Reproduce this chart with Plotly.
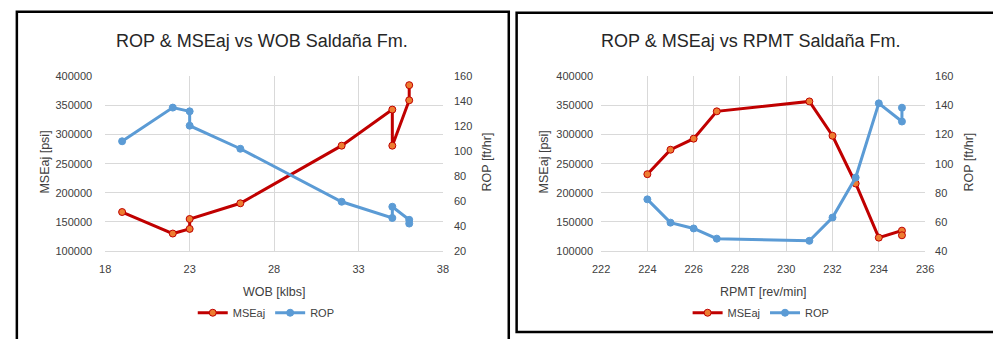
import plotly.graph_objects as go

# ---- Data: left chart (WOB) ----
wob = [19, 22, 23, 23, 26, 32, 35, 35, 36, 36]
mse_wob = [167000, 130000, 138000, 155000, 182000, 281000, 343000, 281000, 359000, 385000]
rop_wob = [108, 135, 132, 120.5, 102, 59.5, 46.5, 55.5, 45, 42]

# ---- Data: right chart (RPMT) ----
rpmt = [224, 225, 226, 227, 231, 232, 233, 234, 235, 235]
mse_rpmt = [232000, 274000, 293000, 340000, 357000, 298000, 216000, 123000, 135000, 127000]
rop_rpmt = [75.5, 59.5, 55.5, 48.5, 47, 63, 90.5, 141.5, 129, 138.5]

titles = ["ROP & MSEaj vs WOB Saldaña Fm.", "ROP & MSEaj vs RPMT Saldaña Fm."]
xtitles = ["WOB [klbs]", "RPMT [rev/min]"]
ytitle_l = "MSEaj [psi]"
ytitle_r = "ROP [ft/hr]"

W, H = 993, 339
FONT = "Liberation Sans, Arial, sans-serif"
TXT = "#404040"
TITLE = "#262626"
GRID = "#D9D9D9"
RED = "#C00000"
ORANGE = "#ED7D31"
BLUE = "#5B9BD5"

def px(x):
    return x / W

def py(y):
    return 1 - y / H

fig = go.Figure()

mse_style = dict(mode="lines+markers", line=dict(color=RED, width=3),
                 marker=dict(size=7, color=ORANGE, line=dict(color=RED, width=1)))
rop_style = dict(mode="lines+markers", line=dict(color=BLUE, width=3),
                 marker=dict(size=7, color=BLUE, line=dict(color=BLUE, width=1)))

fig.add_trace(go.Scatter(x=wob, y=mse_wob, name="MSEaj", xaxis="x", yaxis="y",
                         legend="legend", **mse_style))
fig.add_trace(go.Scatter(x=wob, y=rop_wob, name="ROP", xaxis="x", yaxis="y2",
                         legend="legend", **rop_style))
fig.add_trace(go.Scatter(x=rpmt, y=mse_rpmt, name="MSEaj", xaxis="x2", yaxis="y3",
                         legend="legend2", **mse_style))
fig.add_trace(go.Scatter(x=rpmt, y=rop_rpmt, name="ROP", xaxis="x2", yaxis="y4",
                         legend="legend2", **rop_style))

ydom = [py(254), py(73)]
tickfont = dict(family=FONT, size=11, color=TXT)

common_x = dict(showgrid=True, gridcolor=GRID, gridwidth=1, zeroline=False,
                showline=True, linecolor=GRID, ticks="", tickfont=tickfont,
                ticklabelstandoff=8)
common_y = dict(showgrid=True, gridcolor=GRID, gridwidth=1, zeroline=False,
                showline=False, ticks="", tickfont=tickfont, tickformat="d")

fig.update_layout(
    width=W, height=H,
    margin=dict(l=0, r=0, t=0, b=0),
    paper_bgcolor="white", plot_bgcolor="white",
    showlegend=True,
    xaxis=dict(domain=[px(98), px(442)], range=[18, 38], dtick=5, tick0=18,
               anchor="y", **common_x),
    yaxis=dict(domain=ydom, range=[100000, 400000], dtick=50000, anchor="x",
               ticklabelstandoff=12, **common_y),
    yaxis2=dict(overlaying="y", side="right", anchor="x", range=[20, 160], dtick=20,
                showgrid=False, zeroline=False, ticks="", tickfont=tickfont,
                ticklabelstandoff=10),
    xaxis2=dict(domain=[px(603), px(933)], range=[222, 236], dtick=2, tick0=222,
                anchor="y3", **common_x),
    yaxis3=dict(domain=ydom, range=[100000, 400000], dtick=50000, anchor="x2",
                ticklabelstandoff=7, **common_y),
    yaxis4=dict(overlaying="y3", side="right", anchor="x2", range=[40, 160], dtick=20,
                showgrid=False, zeroline=False, ticks="", tickfont=tickfont,
                ticklabelstandoff=9),
    legend=dict(orientation="h", x=px(262), xanchor="center", y=py(318), yanchor="middle",
                font=dict(family=FONT, size=11, color=TXT), itemwidth=30,
                bgcolor="rgba(0,0,0,0)", traceorder="normal"),
    legend2=dict(orientation="h", x=px(766), xanchor="center", y=py(318), yanchor="middle",
                 font=dict(family=FONT, size=11, color=TXT), itemwidth=30,
                 bgcolor="rgba(0,0,0,0)", traceorder="normal"),
)

annotations = []
for cx, t in [(258, titles[0]), (755, titles[1])]:
    annotations.append(dict(text=t, x=px(cx), y=py(36), xref="paper", yref="paper",
                            showarrow=False, xanchor="center", yanchor="middle",
                            font=dict(family=FONT, size=18, color=TITLE)))
for cx, t in [(270, xtitles[0]), (768, xtitles[1])]:
    annotations.append(dict(text=t, x=px(cx), y=py(297), xref="paper", yref="paper",
                            showarrow=False, xanchor="center", yanchor="middle",
                            font=dict(family=FONT, size=12.5, color=TXT)))
for cx in [37, 545]:
    annotations.append(dict(text=ytitle_l, x=px(cx), y=py(162), xref="paper", yref="paper",
                            showarrow=False, textangle=-90, xanchor="center", yanchor="middle",
                            font=dict(family=FONT, size=12.5, color=TXT)))
for cx in [487, 978]:
    annotations.append(dict(text=ytitle_r, x=px(cx), y=py(162), xref="paper", yref="paper",
                            showarrow=False, textangle=-90, xanchor="center", yanchor="middle",
                            font=dict(family=FONT, size=12.5, color=TXT)))
fig.update_layout(annotations=annotations)

shapes = [
    dict(type="rect", xref="paper", yref="paper", x0=px(8), x1=px(509), y0=-0.1, y1=py(6),
         line=dict(color="black", width=2.5), fillcolor="rgba(0,0,0,0)", layer="above"),
    dict(type="rect", xref="paper", yref="paper", x0=px(517), x1=1.05, y0=py(338), y1=py(7),
         line=dict(color="black", width=2.5), fillcolor="rgba(0,0,0,0)", layer="above"),
]
fig.update_layout(shapes=shapes)

fig.write_html("out.html", config={"displayModeBar": False},
               post_script="document.body.style.margin='0';document.body.style.overflow='hidden';")
